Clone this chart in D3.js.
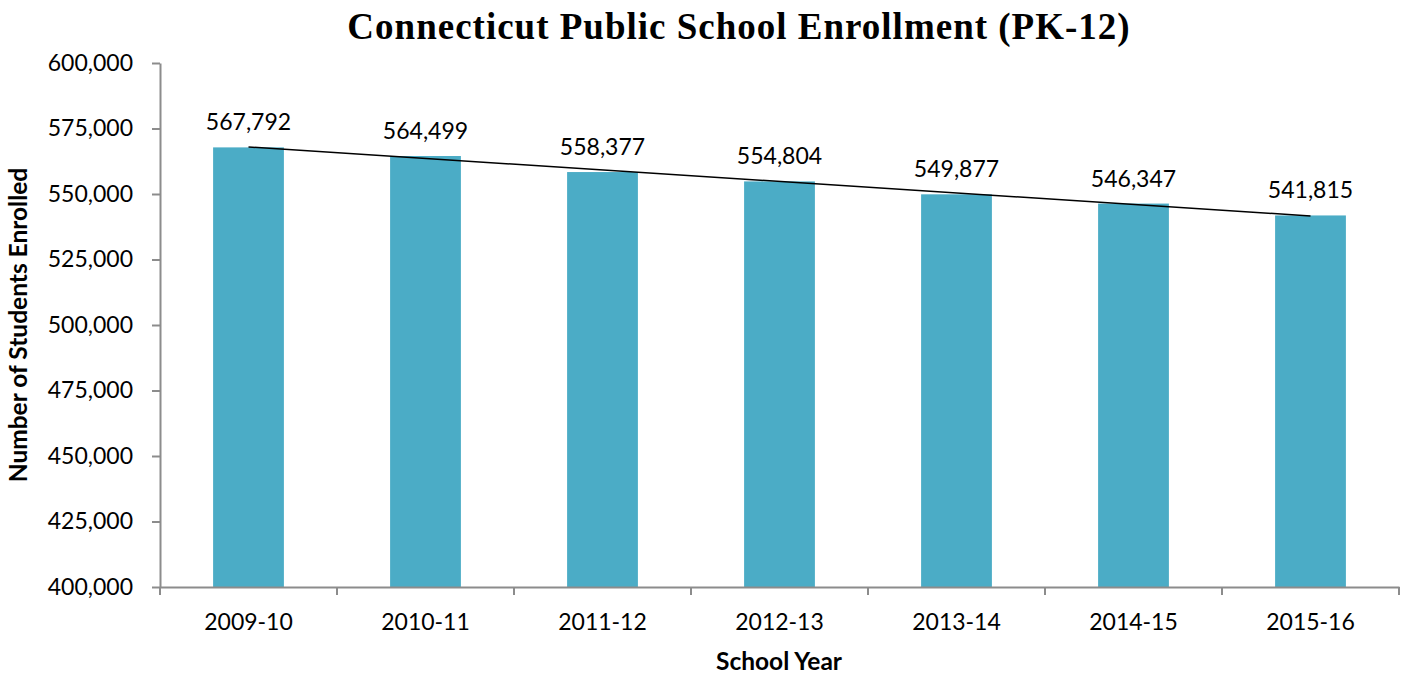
<!DOCTYPE html>
<html>
<head>
<meta charset="utf-8">
<script src="https://cdn.jsdelivr.net/npm/d3@7"></script>
<style>
  body { margin: 0; background: #fff; }
  text { font-family: Lato, "Open Sans", sans-serif; fill: #000; }
</style>
</head>
<body>
<script>
// chart data
var years = ["2009-10", "2010-11", "2011-12", "2012-13", "2013-14", "2014-15", "2015-16"];
var enrollment = [567792, 564499, 558377, 554804, 549877, 546347, 541815];
var yTicks = [400000, 425000, 450000, 475000, 500000, 525000, 550000, 575000, 600000];

// set the dimensions and margins of the graph
var margin = {top: 63, right: 14, bottom: 90, left: 160},
    width = 1413 - margin.left - margin.right,
    height = 677 - margin.top - margin.bottom;

var x = d3.scaleBand()
          .domain(years)
          .range([0, width])
          .paddingInner(0.6)
          .paddingOuter(0.3);
var y = d3.scaleLinear()
          .domain([400000, 600000])
          .range([height, 0]);

var svg = d3.select("body").append("svg")
    .attr("width", width + margin.left + margin.right)
    .attr("height", height + margin.top + margin.bottom);

var g = svg.append("g")
    .attr("transform", "translate(" + margin.left + "," + margin.top + ")");

// bars
g.selectAll(".bar")
    .data(enrollment)
  .enter().append("rect")
    .attr("class", "bar")
    .attr("x", function(d, i) { return x(years[i]); })
    .attr("width", x.bandwidth())
    .attr("y", function(d) { return y(d); })
    .attr("height", function(d) { return height - y(d); })
    .attr("fill", "#4bacc6");

// linear trend line (least squares over category index)
var n = enrollment.length;
var mx = d3.mean(enrollment, function(d, i) { return i; });
var my = d3.mean(enrollment);
var sxy = d3.sum(enrollment, function(d, i) { return (i - mx) * (d - my); });
var sxx = d3.sum(enrollment, function(d, i) { return (i - mx) * (i - mx); });
var slope = sxy / sxx;
var trend = [0, n - 1].map(function(i) { return [i, my + slope * (i - mx)]; });

g.append("path")
    .datum(trend)
    .attr("fill", "none")
    .attr("stroke", "#000")
    .attr("stroke-width", 1.5)
    .attr("d", d3.line()
      .x(function(d) { return x(years[d[0]]) + x.bandwidth() / 2; })
      .y(function(d) { return y(d[1]); }));

// data labels
g.selectAll(".label")
    .data(enrollment)
  .enter().append("text")
    .attr("class", "label")
    .attr("x", function(d, i) { return x(years[i]) + x.bandwidth() / 2; })
    .attr("y", function(d) { return y(d) - 17; })
    .attr("text-anchor", "middle")
    .style("font-size", "23px")
    .text(d3.format(","));

// y axis
var yAxis = g.append("g")
    .call(d3.axisLeft(y)
      .tickValues(yTicks)
      .tickFormat(d3.format(","))
      .tickSizeInner(8)
      .tickSizeOuter(0)
      .tickPadding(19));

// x axis: labels at centres, tick marks on category boundaries
var xAxis = g.append("g")
    .attr("transform", "translate(0," + height + ")")
    .call(d3.axisBottom(x)
      .tickSizeInner(0)
      .tickSizeOuter(0)
      .tickPadding(27));

var bounds = years.map(function(d) { return x(d) - x.step() * x.paddingInner() / 2; });
bounds.push(width);
xAxis.selectAll(".bound")
    .data(bounds)
  .enter().append("line")
    .attr("class", "bound")
    .attr("x1", function(d) { return d; })
    .attr("x2", function(d) { return d; })
    .attr("y1", 0)
    .attr("y2", 8);

[yAxis, xAxis].forEach(function(ax) {
  ax.selectAll("path, line").attr("stroke", "#8c8c8c").attr("stroke-width", 2);
  ax.selectAll("text")
    .style("font-size", "23px")
    .style("font-family", "Lato, sans-serif")
    .attr("fill", "#000");
});

// title
svg.append("text")
    .attr("x", 739)
    .attr("y", 39)
    .attr("text-anchor", "middle")
    .style("font-family", "'Liberation Serif', 'DejaVu Serif', serif")
    .style("font-weight", "bold")
    .style("font-size", "37px")
    .style("letter-spacing", "1px")
    .text("Connecticut Public School Enrollment (PK-12)");

// axis titles
svg.append("text")
    .attr("x", 779)
    .attr("y", 670)
    .attr("text-anchor", "middle")
    .style("font-weight", "bold")
    .style("font-size", "24.5px")
    .text("School Year");

svg.append("text")
    .attr("transform", "translate(27,325) rotate(-90)")
    .attr("text-anchor", "middle")
    .style("font-weight", "bold")
    .style("font-size", "24.5px")
    .text("Number of Students Enrolled");
</script>
</body>
</html>
